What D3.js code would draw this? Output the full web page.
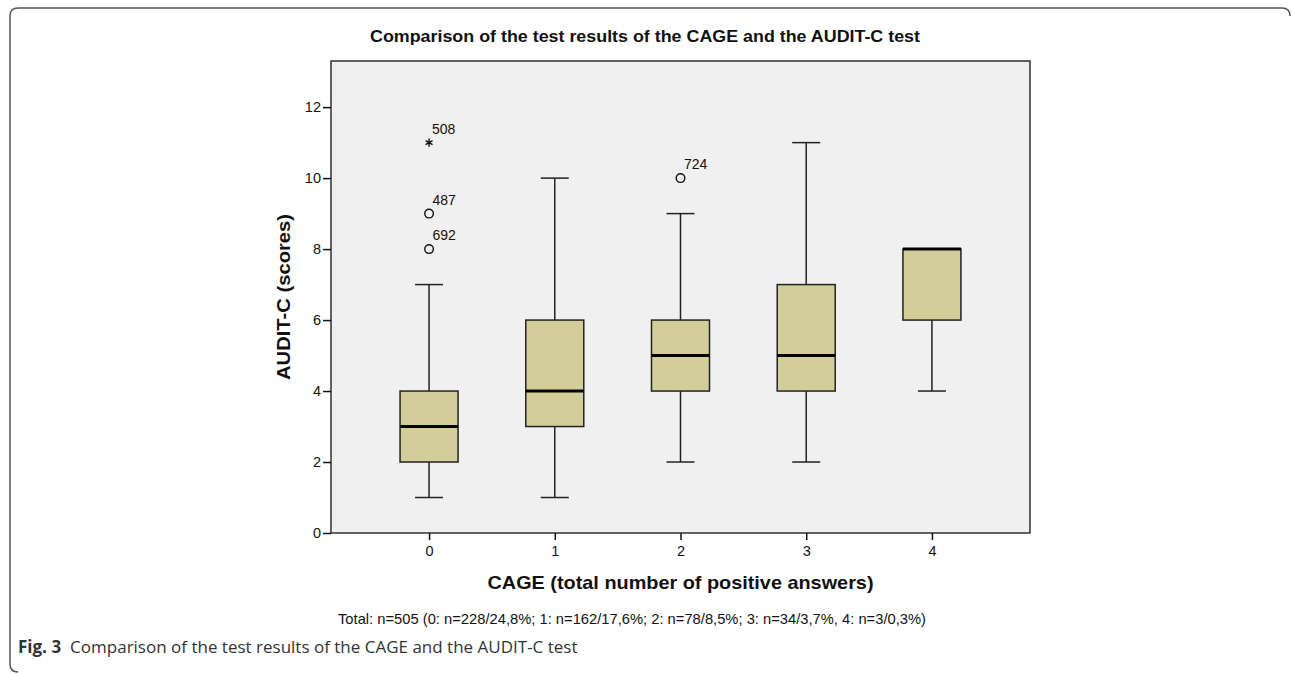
<!DOCTYPE html>
<html>
<head>
<meta charset="utf-8">
<script src="https://cdn.jsdelivr.net/npm/d3@7"></script>
<style>
  html, body { margin: 0; padding: 0; background: #fff; }
  svg { display: block; }
</style>
</head>
<body>
<svg id="chart" width="1292" height="674"></svg>
<script>
// CAGE score groups and AUDIT-C box-plot statistics per group
const categories = ["0", "1", "2", "3", "4"];
const whiskerLow = [1, 1, 2, 2, 4];
const q1 = [2, 3, 4, 4, 6];
const medians = [3, 4, 5, 5, 8];
const q3 = [4, 6, 6, 7, 8];
const whiskerHigh = [7, 10, 9, 11, 8];

// Mild outliers (circles) and extreme values (stars) with case numbers
const outlierGroup = ["0", "0", "2"];
const outlierValue = [8, 9, 10];
const outlierCase = ["692", "487", "724"];
const extremeGroup = ["0"];
const extremeValue = [11];
const extremeCase = ["508"];

const yTicks = [0, 2, 4, 6, 8, 10, 12];

const titleText = "Comparison of the test results of the CAGE and the AUDIT-C test";
const xLabel = "CAGE (total number of positive answers)";
const yLabel = "AUDIT-C (scores)";
const noteText = "Total: n=505 (0: n=228/24,8%; 1: n=162/17,6%; 2: n=78/8,5%; 3: n=34/3,7%, 4: n=3/0,3%)";
const captionBold = "Fig. 3";
const captionText = "Comparison of the test results of the CAGE and the AUDIT-C test";

const svg = d3.select("#chart");
const sans = "'Liberation Sans', Arial, Helvetica, sans-serif";

// Figure frame with rounded corners
svg.append("path")
  .attr("d", "M1290,16 Q1290,8 1282,8 L18,8 Q10,8 10,16 L10,664 Q10,672 18,672")
  .attr("fill", "none")
  .attr("stroke", "#555")
  .attr("stroke-width", 1.5);

const plot = { left: 331, right: 1030, top: 61, bottom: 533 };

const x = d3.scalePoint()
  .domain(categories)
  .range([plot.left, plot.right])
  .padding(0.78);

const y = d3.scaleLinear()
  .domain([0, 13.3])
  .range([plot.bottom, plot.top]);

// Plot background
svg.append("rect")
  .attr("x", plot.left)
  .attr("y", plot.top)
  .attr("width", plot.right - plot.left)
  .attr("height", plot.bottom - plot.top)
  .attr("fill", "#f0f0f0")
  .attr("stroke", "#111")
  .attr("stroke-width", 1.3);

// Axes
const yAxis = svg.append("g")
  .attr("transform", `translate(${plot.left},0)`)
  .call(d3.axisLeft(y).tickValues(yTicks).tickSize(8).tickPadding(2).tickFormat(d3.format("d")));
yAxis.select(".domain").remove();
yAxis.selectAll(".tick line").attr("stroke", "#111").attr("stroke-width", 1.5);
yAxis.selectAll(".tick text").attr("font-family", sans).attr("font-size", 14.5).attr("fill", "#111");

const xAxis = svg.append("g")
  .attr("transform", `translate(0,${plot.bottom})`)
  .call(d3.axisBottom(x).tickSize(7).tickPadding(6));
xAxis.select(".domain").remove();
xAxis.selectAll(".tick line").attr("stroke", "#111").attr("stroke-width", 1.5);
xAxis.selectAll(".tick text").attr("font-family", sans).attr("font-size", 14.5).attr("fill", "#111");

// Box plots
const boxW = 58, capW = 28;
const boxes = svg.append("g");
categories.forEach((c, i) => {
  const cx = x(c);
  const g = boxes.append("g");
  // whiskers
  g.append("line").attr("x1", cx).attr("x2", cx).attr("y1", y(whiskerLow[i])).attr("y2", y(q1[i]))
    .attr("stroke", "#222").attr("stroke-width", 1.5);
  g.append("line").attr("x1", cx).attr("x2", cx).attr("y1", y(q3[i])).attr("y2", y(whiskerHigh[i]))
    .attr("stroke", "#222").attr("stroke-width", 1.5);
  g.append("line").attr("x1", cx - capW / 2).attr("x2", cx + capW / 2)
    .attr("y1", y(whiskerLow[i])).attr("y2", y(whiskerLow[i]))
    .attr("stroke", "#222").attr("stroke-width", 1.5);
  if (whiskerHigh[i] > q3[i]) {
    g.append("line").attr("x1", cx - capW / 2).attr("x2", cx + capW / 2)
      .attr("y1", y(whiskerHigh[i])).attr("y2", y(whiskerHigh[i]))
      .attr("stroke", "#222").attr("stroke-width", 1.5);
  }
  // box
  g.append("rect")
    .attr("x", cx - boxW / 2)
    .attr("y", y(q3[i]))
    .attr("width", boxW)
    .attr("height", y(q1[i]) - y(q3[i]))
    .attr("fill", "#d3ce99")
    .attr("stroke", "#222")
    .attr("stroke-width", 1.5);
  // median
  g.append("line").attr("x1", cx - boxW / 2).attr("x2", cx + boxW / 2)
    .attr("y1", y(medians[i])).attr("y2", y(medians[i]))
    .attr("stroke", "#000").attr("stroke-width", 3);
});

// Outliers
const pts = svg.append("g");
outlierValue.forEach((v, i) => {
  const cx = x(outlierGroup[i]), cy = y(v);
  pts.append("circle").attr("cx", cx).attr("cy", cy).attr("r", 4.3)
    .attr("fill", "none").attr("stroke", "#111").attr("stroke-width", 1.4);
  pts.append("text").attr("x", cx + 3.5).attr("y", cy - 9)
    .attr("font-family", sans).attr("font-size", 14).attr("fill", "#111")
    .text(outlierCase[i]);
});
extremeValue.forEach((v, i) => {
  const cx = x(extremeGroup[i]), cy = y(v);
  pts.append("path")
    .attr("transform", `translate(${cx},${cy})`)
    .attr("d", d3.symbol().type(d3.symbolAsterisk).size(45)())
    .attr("fill", "none").attr("stroke", "#111").attr("stroke-width", 1.4);
  pts.append("text").attr("x", cx + 3).attr("y", cy - 9)
    .attr("font-family", sans).attr("font-size", 14).attr("fill", "#111")
    .text(extremeCase[i]);
});

// Titles and labels
svg.append("text")
  .attr("x", 645).attr("y", 42)
  .attr("text-anchor", "middle")
  .attr("font-family", sans).attr("font-weight", "bold").attr("font-size", 17)
  .attr("textLength", 550).attr("lengthAdjust", "spacingAndGlyphs")
  .attr("fill", "#111")
  .text(titleText);

svg.append("text")
  .attr("transform", `translate(290,${(plot.top + plot.bottom) / 2}) rotate(-90)`)
  .attr("text-anchor", "middle")
  .attr("font-family", sans).attr("font-weight", "bold").attr("font-size", 18.5)
  .attr("textLength", 166).attr("lengthAdjust", "spacingAndGlyphs")
  .attr("fill", "#111")
  .text(yLabel);

svg.append("text")
  .attr("x", (plot.left + plot.right) / 2).attr("y", 589)
  .attr("text-anchor", "middle")
  .attr("font-family", sans).attr("font-weight", "bold").attr("font-size", 19)
  .attr("textLength", 386).attr("lengthAdjust", "spacingAndGlyphs")
  .attr("fill", "#111")
  .text(xLabel);

svg.append("text")
  .attr("x", 632).attr("y", 624)
  .attr("text-anchor", "middle")
  .attr("font-family", sans).attr("font-size", 14.5)
  .attr("textLength", 588).attr("lengthAdjust", "spacingAndGlyphs")
  .attr("fill", "#111")
  .text(noteText);

const cap = svg.append("text")
  .attr("x", 18).attr("y", 653)
  .attr("font-family", "'Open Sans', 'Noto Sans', sans-serif").attr("font-size", 17)
  .attr("fill", "#333");
cap.append("tspan").attr("font-weight", "bold").text(captionBold);
cap.append("tspan").attr("dx", 9).text(captionText);
</script>
</body>
</html>
